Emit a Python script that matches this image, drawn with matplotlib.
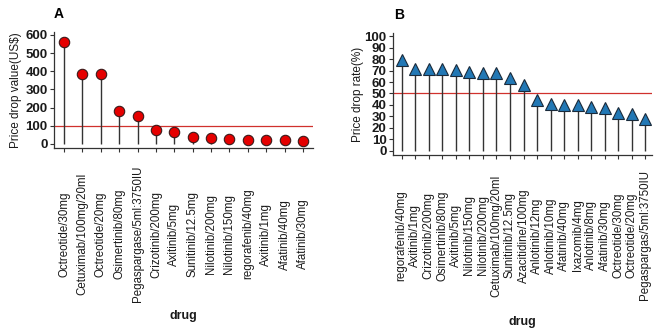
import matplotlib
matplotlib.use("Agg")
import matplotlib.pyplot as plt

plt.rcParams['font.family'] = ['Liberation Sans', 'DejaVu Sans']

drugs_a = ["Octreotide/30mg", "Cetuximab/100mg/20ml", "Octreotide/20mg", "Osimertinib/80mg",
           "Pegaspargase/5ml:3750IU", "Crizotinib/200mg", "Axitinib/5mg", "Sunitinib/12.5mg",
           "Nilotinib/200mg", "Nilotinib/150mg", "regorafenib/40mg", "Axitinib/1mg",
           "Afatinib/40mg", "Afatinib/30mg"]
values_a = [560, 385, 385, 182, 156, 79, 68, 37, 33, 28, 20, 20, 20, 15]
threshold_a = 100

drugs_b = ["regorafenib/40mg", "Axitinib/1mg", "Crizotinib/200mg", "Osimertinib/80mg",
           "Axitinib/5mg", "Nilotinib/150mg", "Nilotinib/200mg", "Cetuximab/100mg/20ml",
           "Sunitinib/12.5mg", "Azacitidine/100mg", "Anlotinib/12mg", "Anlotinib/10mg",
           "Afatinib/40mg", "Ixazomib/4mg", "Anlotinib/8mg", "Afatinib/30mg",
           "Octreotide/30mg", "Octreotide/20mg", "Pegaspargas/5ml:3750IU"]
values_b = [79, 71, 71, 71, 70.5, 69, 68, 67.5, 63.5, 57, 44, 41, 40, 40, 38, 37, 33, 32, 28]
threshold_b = 50

ticks_a = [0, 100, 200, 300, 400, 500, 600]
ticks_b = list(range(0, 101, 10))

fig = plt.figure(figsize=(6.69, 3.31), dpi=100)
axA = fig.add_axes([0.0807, 0.553, 0.3873, 0.350])
axB = fig.add_axes([0.587, 0.532, 0.388, 0.368])

txt = '#1a1a1a'

def style(ax, labels, pad):
    ax.spines['top'].set_visible(False)
    ax.spines['right'].set_visible(False)
    for s in ['left', 'bottom']:
        ax.spines[s].set_color('#333333')
        ax.spines[s].set_linewidth(0.9)
    ax.set_xticks(range(1, len(labels) + 1))
    ax.set_xticklabels(labels, rotation=90, va='center', ha='center', fontsize=8.3, color=txt)
    ax.tick_params(axis='x', length=3, width=0.8, color='#333333', pad=pad)
    ax.tick_params(axis='y', length=3, width=0.8, color='#333333', pad=1.5)
    for t in ax.get_yticklabels():
        t.set_fontweight('bold')
        t.set_color(txt)
        t.set_fontsize(9.5)
    ax.set_xlabel('drug', fontsize=9, fontweight='bold', color=txt)

# Panel A
xa = list(range(1, len(values_a) + 1))
axA.vlines(xa, 0, values_a, color='#333333', linewidth=1.0, zorder=2)
axA.axhline(threshold_a, color='#d0312d', linewidth=0.9, zorder=1)
axA.plot(xa, values_a, 'o', markersize=7.5, markerfacecolor='#e50000',
         markeredgecolor='#3a1a1a', markeredgewidth=0.8, zorder=3)
axA.set_xlim(0.45, len(values_a) + 0.55)
axA.set_ylim(-22, 615)
axA.set_yticks(ticks_a)
style(axA, drugs_a, 59)
axA.xaxis.set_label_coords(0.5, -1.40)
axA.set_ylabel('Price drop value(US$)', fontsize=8.5, color=txt)
axA.yaxis.set_label_coords(-0.125, 0.5)
axA.set_title('A', loc='left', fontsize=10, fontweight='bold', x=0.0, pad=10)

# Panel B
xb = list(range(1, len(values_b) + 1))
axB.vlines(xb, 0, values_b, color='#333333', linewidth=1.0, zorder=2)
axB.axhline(threshold_b, color='#d0312d', linewidth=0.9, zorder=1)
axB.plot(xb, values_b, '^', markersize=8.5, markerfacecolor='#2278b5',
         markeredgecolor='#1a2a3a', markeredgewidth=0.8, zorder=3)
axB.set_xlim(0.35, len(values_b) + 0.5)
axB.set_ylim(-3.5, 102.6)
axB.set_yticks(ticks_b)
style(axB, drugs_b, 55)
axB.xaxis.set_label_coords(0.5, -1.32)
axB.set_ylabel('Price drop rate(%)', fontsize=8.5, color=txt)
axB.yaxis.set_label_coords(-0.11, 0.5)
axB.set_title('B', loc='left', fontsize=10, fontweight='bold', x=0.005, pad=10)

fig.savefig('out.png', dpi=100, facecolor='white')
